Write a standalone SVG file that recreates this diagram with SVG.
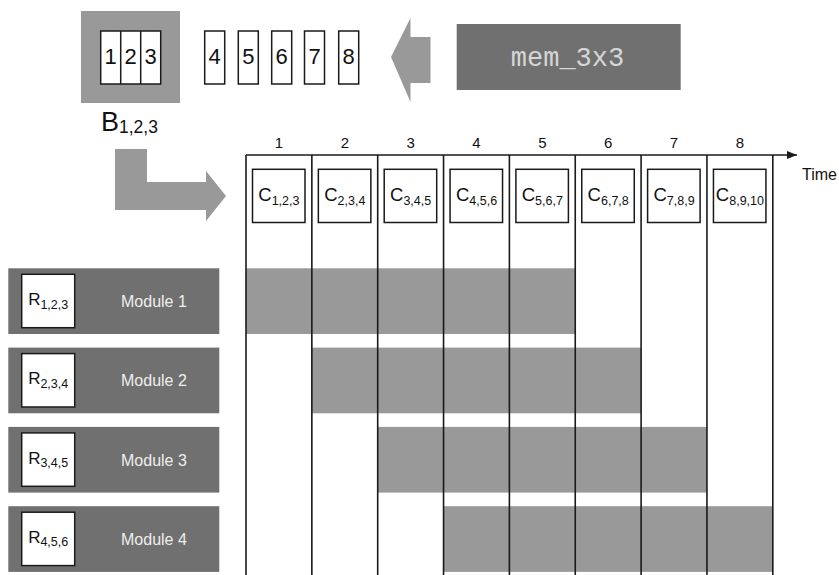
<svg xmlns="http://www.w3.org/2000/svg" width="839" height="575" viewBox="0 0 839 575">
<style>
.t{font-family:"Liberation Sans",Arial,sans-serif;fill:#111}
.box{fill:#fff;stroke:#1a1a1a;stroke-width:1.5}
.gray{fill:#999}
.dark{fill:#707070}
.bar{fill:#999}
.vl{stroke:#1a1a1a;stroke-width:1.6;fill:none}
.mod{font-family:"Liberation Sans",Arial,sans-serif;fill:#eee;font-size:16px}
.num{font-size:22px}
.cl{font-size:18.5px}
.sub{font-size:12.5px}
.hd{font-size:15px}
</style>
<defs>
<marker id="ah" markerWidth="10" markerHeight="8" refX="10" refY="4" orient="auto" markerUnits="userSpaceOnUse">
<path d="M0,0 L10,4 L0,8 Z" fill="#1a1a1a"/>
</marker>
</defs>
<rect width="839" height="575" fill="#fff"/>

<g id="buffer">
<rect class="gray" x="81" y="11" width="99" height="92"/>
<rect class="box" x="100.7" y="31" width="60" height="53"/>
<line x1="120.7" y1="31" x2="120.7" y2="84" stroke="#1a1a1a" stroke-width="1.5"/>
<line x1="140.7" y1="31" x2="140.7" y2="84" stroke="#1a1a1a" stroke-width="1.5"/>
<text class="t num" x="110.7" y="64" text-anchor="middle">1</text>
<text class="t num" x="130.7" y="64" text-anchor="middle">2</text>
<text class="t num" x="150.7" y="64" text-anchor="middle">3</text>
<text class="t" x="101" y="131" font-size="27">B<tspan font-size="17.5" dy="2">1,2,3</tspan></text>
</g>

<g id="stream">
<rect class="box" x="204.7" y="31" width="20" height="53"/>
<rect class="box" x="238.3" y="31" width="20" height="53"/>
<rect class="box" x="271.7" y="31" width="20" height="53"/>
<rect class="box" x="304.5" y="31" width="20" height="53"/>
<rect class="box" x="338.7" y="31" width="20" height="53"/>
<text class="t num" x="214.7" y="64" text-anchor="middle">4</text>
<text class="t num" x="248.3" y="64" text-anchor="middle">5</text>
<text class="t num" x="281.7" y="64" text-anchor="middle">6</text>
<text class="t num" x="314.5" y="64" text-anchor="middle">7</text>
<text class="t num" x="348.7" y="64" text-anchor="middle">8</text>
</g>

<g id="mem">
<rect class="dark" x="456.7" y="24" width="224" height="66"/>
<text x="567.5" y="65.5" text-anchor="middle" font-family="'Liberation Mono','Courier New',monospace" font-size="27" fill="#d6d6d6">mem_3x3</text>
</g>

<g id="arrows">
<path class="gray" d="M391,57 L410.5,18 L410.5,37 L430.5,37 L430.5,83 L410.5,83 L410.5,102 Z"/>
<path class="gray" d="M115,149 L147,149 L147,182 L206,182 L206,171 L226,196 L206,221 L206,210 L115,210 Z"/>
</g>

<g id="bars">
<rect class="bar" x="246" y="268.3" width="329.25" height="65.7"/>
<rect class="bar" x="311.85" y="347.6" width="329.25" height="65.7"/>
<rect class="bar" x="377.7" y="426.9" width="329.25" height="65.7"/>
<rect class="bar" x="443.55" y="506.2" width="329.25" height="65.7"/>
</g>

<g id="timeline">
<line class="vl" x1="246" y1="155" x2="797" y2="155" marker-end="url(#ah)"/>
<line class="vl" x1="246" y1="155" x2="246" y2="575"/>
<line class="vl" x1="311.85" y1="155" x2="311.85" y2="575"/>
<line class="vl" x1="377.7" y1="155" x2="377.7" y2="575"/>
<line class="vl" x1="443.55" y1="155" x2="443.55" y2="575"/>
<line class="vl" x1="509.4" y1="155" x2="509.4" y2="575"/>
<line class="vl" x1="575.25" y1="155" x2="575.25" y2="575"/>
<line class="vl" x1="641.1" y1="155" x2="641.1" y2="575"/>
<line class="vl" x1="706.95" y1="155" x2="706.95" y2="575"/>
<line class="vl" x1="772.8" y1="155" x2="772.8" y2="575"/>
<text class="t hd" x="278.9" y="147.5" text-anchor="middle">1</text>
<text class="t hd" x="344.8" y="147.5" text-anchor="middle">2</text>
<text class="t hd" x="410.6" y="147.5" text-anchor="middle">3</text>
<text class="t hd" x="476.5" y="147.5" text-anchor="middle">4</text>
<text class="t hd" x="542.3" y="147.5" text-anchor="middle">5</text>
<text class="t hd" x="608.2" y="147.5" text-anchor="middle">6</text>
<text class="t hd" x="674.0" y="147.5" text-anchor="middle">7</text>
<text class="t hd" x="739.9" y="147.5" text-anchor="middle">8</text>
<text class="t" x="802" y="180" font-size="16">Time</text>
</g>

<g id="c1"><rect class="box" x="252.5" y="169.3" width="52.5" height="53.2"/><text class="t cl" x="278.9" y="201" text-anchor="middle">C<tspan class="sub" dy="3.5">1,2,3</tspan></text></g>
<g id="c2"><rect class="box" x="318.35" y="169.3" width="52.5" height="53.2"/><text class="t cl" x="344.8" y="201" text-anchor="middle">C<tspan class="sub" dy="3.5">2,3,4</tspan></text></g>
<g id="c3"><rect class="box" x="384.2" y="169.3" width="52.5" height="53.2"/><text class="t cl" x="410.6" y="201" text-anchor="middle">C<tspan class="sub" dy="3.5">3,4,5</tspan></text></g>
<g id="c4"><rect class="box" x="450.05" y="169.3" width="52.5" height="53.2"/><text class="t cl" x="476.5" y="201" text-anchor="middle">C<tspan class="sub" dy="3.5">4,5,6</tspan></text></g>
<g id="c5"><rect class="box" x="515.9" y="169.3" width="52.5" height="53.2"/><text class="t cl" x="542.3" y="201" text-anchor="middle">C<tspan class="sub" dy="3.5">5,6,7</tspan></text></g>
<g id="c6"><rect class="box" x="581.75" y="169.3" width="52.5" height="53.2"/><text class="t cl" x="608.2" y="201" text-anchor="middle">C<tspan class="sub" dy="3.5">6,7,8</tspan></text></g>
<g id="c7"><rect class="box" x="647.6" y="169.3" width="52.5" height="53.2"/><text class="t cl" x="674.0" y="201" text-anchor="middle">C<tspan class="sub" dy="3.5">7,8,9</tspan></text></g>
<g id="c8"><rect class="box" x="713.45" y="169.3" width="52.5" height="53.2"/><text class="t cl" x="739.9" y="201" text-anchor="middle">C<tspan class="sub" dy="3.5">8,9,10</tspan></text></g>

<g id="module1">
<rect class="dark" x="8.3" y="268.3" width="211" height="65.7"/>
<rect class="box" x="21.7" y="274.3" width="53" height="53.4"/>
<text class="t" x="48.2" y="305" text-anchor="middle" font-size="17">R<tspan font-size="12.5" dy="3.5">1,2,3</tspan></text>
<text class="mod" x="121" y="307">Module 1</text>
</g>
<g id="module2">
<rect class="dark" x="8.3" y="347.6" width="211" height="65.7"/>
<rect class="box" x="21.7" y="353.6" width="53" height="53.4"/>
<text class="t" x="48.2" y="384.3" text-anchor="middle" font-size="17">R<tspan font-size="12.5" dy="3.5">2,3,4</tspan></text>
<text class="mod" x="121" y="386.3">Module 2</text>
</g>
<g id="module3">
<rect class="dark" x="8.3" y="426.9" width="211" height="65.7"/>
<rect class="box" x="21.7" y="432.9" width="53" height="53.4"/>
<text class="t" x="48.2" y="463.6" text-anchor="middle" font-size="17">R<tspan font-size="12.5" dy="3.5">3,4,5</tspan></text>
<text class="mod" x="121" y="465.6">Module 3</text>
</g>
<g id="module4">
<rect class="dark" x="8.3" y="506.2" width="211" height="65.7"/>
<rect class="box" x="21.7" y="512.2" width="53" height="53.4"/>
<text class="t" x="48.2" y="542.9" text-anchor="middle" font-size="17">R<tspan font-size="12.5" dy="3.5">4,5,6</tspan></text>
<text class="mod" x="121" y="544.9">Module 4</text>
</g>
</svg>
